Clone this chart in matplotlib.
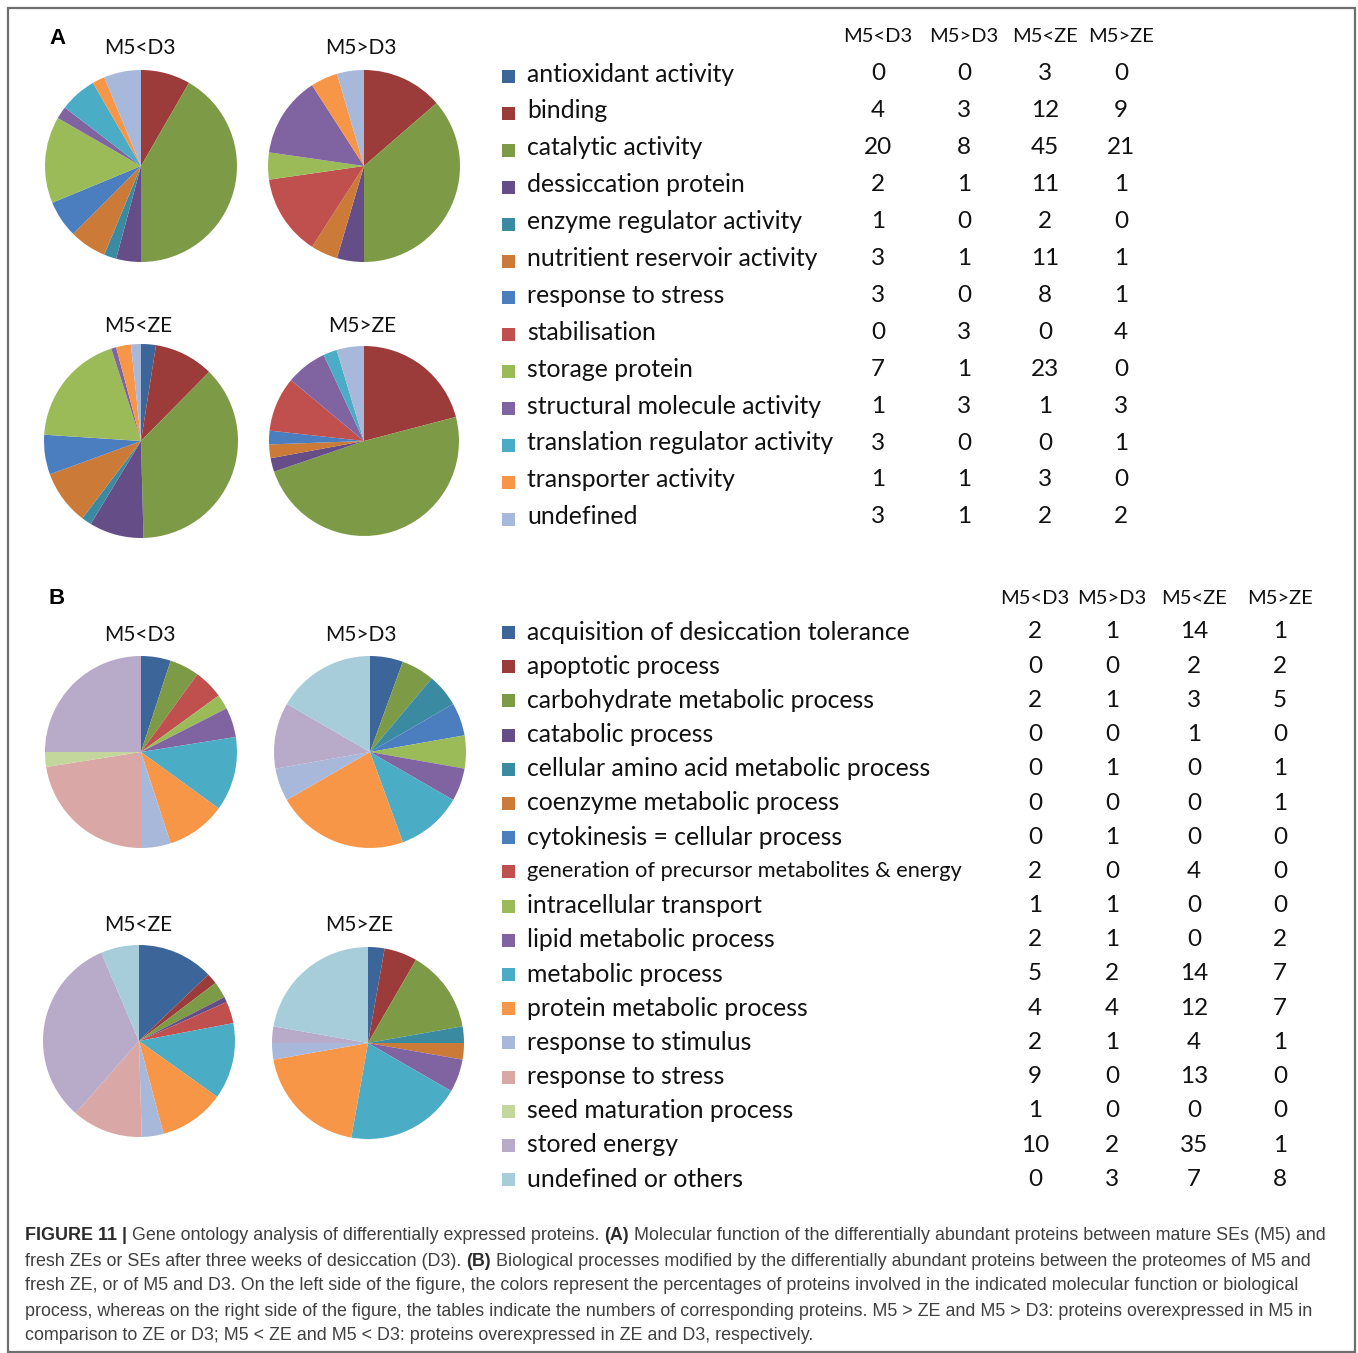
import matplotlib
matplotlib.use("Agg")
import matplotlib.pyplot as plt
from matplotlib.patches import Rectangle

W, H = 1358, 1353
DPI = 100

# ---------------- data ----------------
comparisons = ["M5<D3", "M5>D3", "M5<ZE", "M5>ZE"]

mf_categories = [
    "antioxidant activity", "binding", "catalytic activity", "dessiccation protein",
    "enzyme regulator activity", "nutritient reservoir activity", "response to stress",
    "stabilisation", "storage protein", "structural molecule activity",
    "translation regulator activity", "transporter activity", "undefined",
]
mf_m5_lt_d3 = [0, 4, 20, 2, 1, 3, 3, 0, 7, 1, 3, 1, 3]
mf_m5_gt_d3 = [0, 3, 8, 1, 0, 1, 0, 3, 1, 3, 0, 1, 1]
mf_m5_lt_ze = [3, 12, 45, 11, 2, 11, 8, 0, 23, 1, 0, 3, 2]
mf_m5_gt_ze = [0, 9, 21, 1, 0, 1, 1, 4, 0, 3, 1, 0, 2]
mf_colors = ["#3C6699", "#9C3C3A", "#7D9B47", "#654E88", "#3A8BA2", "#CB7A38",
             "#4A7EBF", "#C0504D", "#9BBB59", "#8064A2", "#4BACC6", "#F79646",
             "#A7B8DA"]

bp_categories = [
    "acquisition of desiccation tolerance", "apoptotic process",
    "carbohydrate metabolic process", "catabolic process",
    "cellular amino acid metabolic process", "coenzyme metabolic process",
    "cytokinesis = cellular process", "generation of precursor metabolites & energy",
    "intracellular transport", "lipid metabolic process", "metabolic process",
    "protein metabolic process", "response to stimulus", "response to stress",
    "seed maturation process", "stored energy", "undefined or others",
]
bp_m5_lt_d3 = [2, 0, 2, 0, 0, 0, 0, 2, 1, 2, 5, 4, 2, 9, 1, 10, 0]
bp_m5_gt_d3 = [1, 0, 1, 0, 1, 0, 1, 0, 1, 1, 2, 4, 1, 0, 0, 2, 3]
bp_m5_lt_ze = [14, 2, 3, 1, 0, 0, 0, 4, 0, 0, 14, 12, 4, 13, 0, 35, 7]
bp_m5_gt_ze = [1, 2, 5, 0, 1, 1, 0, 0, 0, 2, 7, 7, 1, 0, 0, 1, 8]
bp_colors = ["#3C6699", "#9C3C3A", "#7D9B47", "#654E88", "#3A8BA2", "#CB7A38",
             "#4A7EBF", "#C0504D", "#9BBB59", "#8064A2", "#4BACC6", "#F79646",
             "#A7B8DA", "#D9A7A6", "#C3D69B", "#B7ABC9", "#A8CDDA"]

caption_lines = [
    [("FIGURE 11 | ", "bold"), ("Gene ontology analysis of differentially expressed proteins. ", "normal"),
     ("(A)", "bold"), (" Molecular function of the differentially abundant proteins between mature SEs (M5) and", "normal")],
    [("fresh ZEs or SEs after three weeks of desiccation (D3). ", "normal"), ("(B)", "bold"),
     (" Biological processes modified by the differentially abundant proteins between the proteomes of M5 and", "normal")],
    [("fresh ZE, or of M5 and D3. On the left side of the figure, the colors represent the percentages of proteins involved in the indicated molecular function or biological", "normal")],
    [("process, whereas on the right side of the figure, the tables indicate the numbers of corresponding proteins. M5 > ZE and M5 > D3: proteins overexpressed in M5 in", "normal")],
    [("comparison to ZE or D3; M5 < ZE and M5 < D3: proteins overexpressed in ZE and D3, respectively.", "normal")],
]

LABEL_FONT = "Lato"
CAP_FONT = "Liberation Sans"
TXT = "#111111"

fig = plt.figure(figsize=(W / DPI, H / DPI), dpi=DPI)
fig.patch.set_facecolor("white")
ax = fig.add_axes([0, 0, 1, 1])
ax.set_xlim(0, W)
ax.set_ylim(H, 0)
ax.axis("off")

# outer frame
ax.add_patch(Rectangle((8, 8), 1347, 1344, fill=False, edgecolor="#6E6E6E", lw=1.6))


def pie_at(cx, cy, r, values, colors, title, tx, ty):
    a = fig.add_axes([(cx - r) / W, 1 - (cy + r) / H, 2 * r / W, 2 * r / H])
    a.pie(values, colors=colors, startangle=90, counterclock=False,
          wedgeprops=dict(linewidth=0))
    a.set_xlim(-1.0, 1.0)
    a.set_ylim(-1.0, 1.0)
    a.set_aspect("equal")
    a.axis("off")
    ax.text(tx, ty, title, ha="center", va="center", fontsize=15,
            family=LABEL_FONT, color=TXT)


# ---------- panel A ----------
ax.text(49, 39, "A", fontsize=16, weight="bold", family=CAP_FONT, va="center", ha="left")
mf_series = [mf_m5_lt_d3, mf_m5_gt_d3, mf_m5_lt_ze, mf_m5_gt_ze]
pie_at(141, 166, 96, mf_m5_lt_d3, mf_colors, comparisons[0], 140, 48)
pie_at(364, 166, 96, mf_m5_gt_d3, mf_colors, comparisons[1], 361, 48)
pie_at(141, 441, 97, mf_m5_lt_ze, mf_colors, comparisons[2], 138, 326)
pie_at(364, 441, 95, mf_m5_gt_ze, mf_colors, comparisons[3], 362, 326)

a_cols = [878, 964, 1045, 1121]
for x, lab in zip(a_cols, comparisons):
    ax.text(x, 37, lab, ha="center", va="center", fontsize=14.5, family=LABEL_FONT, color=TXT)
for i, (cat, col) in enumerate(zip(mf_categories, mf_colors)):
    y = 74 + i * 36.9
    ax.add_patch(Rectangle((502, y - 4), 13, 13, facecolor=col, edgecolor="none"))
    ax.text(527, y, cat, ha="left", va="center", fontsize=17.8, family=LABEL_FONT, color=TXT)
    for x, s in zip(a_cols, mf_series):
        ax.text(x, y, str(s[i]), ha="center", va="center", fontsize=17.5,
                family=LABEL_FONT, color=TXT)

# ---------- panel B ----------
ax.text(48, 599, "B", fontsize=16, weight="bold", family=CAP_FONT, va="center", ha="left")
bp_series = [bp_m5_lt_d3, bp_m5_gt_d3, bp_m5_lt_ze, bp_m5_gt_ze]
pie_at(141, 752, 96, bp_m5_lt_d3, bp_colors, comparisons[0], 140, 635)
pie_at(370, 752, 96, bp_m5_gt_d3, bp_colors, comparisons[1], 361, 635)
pie_at(139, 1041, 96, bp_m5_lt_ze, bp_colors, comparisons[2], 138, 925)
pie_at(368, 1043, 96, bp_m5_gt_ze, bp_colors, comparisons[3], 359, 925)

b_cols = [1035, 1112, 1194, 1280]
for x, lab in zip(b_cols, comparisons):
    ax.text(x, 598, lab, ha="center", va="center", fontsize=14.5, family=LABEL_FONT, color=TXT)
for i, (cat, col) in enumerate(zip(bp_categories, bp_colors)):
    y = 632 + i * 34.2
    ax.add_patch(Rectangle((502, y - 6), 13, 13, facecolor=col, edgecolor="none"))
    fs = 15.7 if "&" in cat else 17.8
    ax.text(527, y, cat, ha="left", va="center", fontsize=fs, family=LABEL_FONT, color=TXT)
    for x, s in zip(b_cols, bp_series):
        ax.text(x, y, str(s[i]), ha="center", va="center", fontsize=17.5,
                family=LABEL_FONT, color=TXT)

# ---------- caption ----------
fig.canvas.draw()
renderer = fig.canvas.get_renderer()
inv = ax.transData.inverted()
for li, segs in enumerate(caption_lines):
    y = 1236 + li * 25.0
    x = 25
    for txt, wt in segs:
        t = ax.text(x, y, txt, ha="left", va="center", fontsize=12.9, weight=wt,
                    family=CAP_FONT, color="#2B2B2B" if wt == "bold" else "#404040")
        bb = t.get_window_extent(renderer=renderer)
        x0, _ = inv.transform((bb.x0, bb.y0))
        x1, _ = inv.transform((bb.x1, bb.y0))
        x += (x1 - x0)

fig.savefig("out.png", dpi=DPI, facecolor="white")
